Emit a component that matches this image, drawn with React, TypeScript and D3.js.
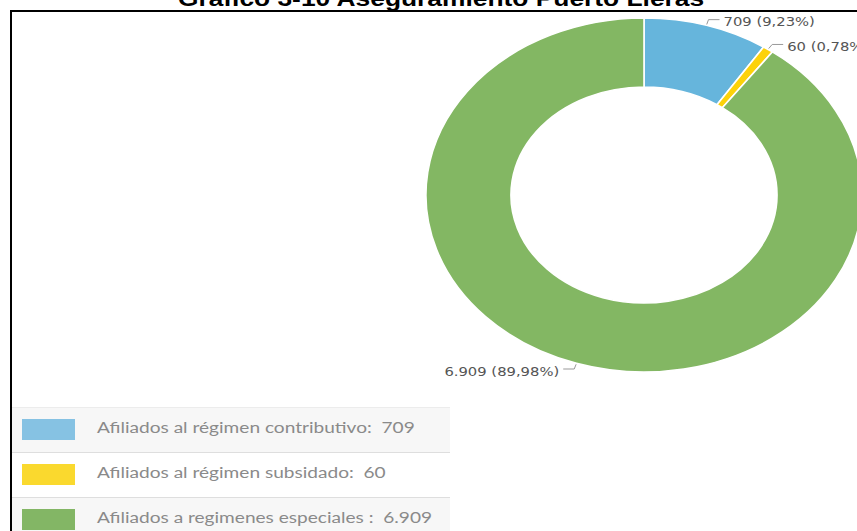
import React from "react";
import * as d3 from "d3";

const titleText = "Gráfico 3-10 Aseguramiento Puerto Lleras";
const categories = [
  "Afiliados al régimen contributivo",
  "Afiliados al régimen subsidado",
  "Afiliados a regimenes especiales ",
];
const values = [709, 60, 6909];
const sliceColors = ["#66b5dc", "#fcd20a", "#83b763"];
const swatchColors = ["#86c2e3", "#fad92e", "#83b665"];

const locale = d3.formatLocale({ decimal: ",", thousands: ".", grouping: [3], currency: ["", ""] });
const fmtInt = locale.format(",d");
const fmtPct = locale.format(".2%");

const W = 857;
const H = 531;
const SX = 1.232;
const CX = 644;
const CY = 195;
const R_OUT = 177;
const R_IN = 108;

export default function App() {
  const total = d3.sum(values);
  const pie = d3.pie<number>().sort(null).startAngle(0).endAngle(2 * Math.PI).value((d) => d);
  const arcs = pie(values);
  const arcGen = d3.arc<d3.PieArcDatum<number>>().innerRadius(R_IN).outerRadius(R_OUT);

  const pt = (angle: number, r: number) => [CX + SX * r * Math.sin(angle), CY - r * Math.cos(angle)];

  const rowY = d3.scaleBand<number>().domain(d3.range(categories.length)).range([407, 542]).padding(0);

  return (
    <svg width={W} height={H} style={{ position: "absolute", left: 0, top: 0, background: "#fff" }}>
      {/* title */}
      <text
        transform={`translate(441,6) scale(${SX},1)`}
        textAnchor="middle"
        fontFamily="'Liberation Sans', Arial, sans-serif"
        fontWeight="bold"
        fontSize={21.4}
        fill="#000"
      >
        {titleText}
      </text>
      {/* frame */}
      <line x1={10} x2={W} y1={11} y2={11} stroke="#000" strokeWidth={2} />
      <line x1={11} x2={11} y1={10} y2={H} stroke="#000" strokeWidth={2} />

      {/* donut */}
      <g transform={`translate(${CX},${CY}) scale(${SX},1)`}>
        {arcs.map((a, i) => (
          <path
            key={i}
            d={arcGen(a) || ""}
            fill={sliceColors[i]}
            stroke="#fff"
            strokeWidth={1.6}
            vectorEffect="non-scaling-stroke"
          />
        ))}
      </g>

      {/* labels */}
      {arcs.map((a, i) => {
        const mid = (a.startAngle + a.endAngle) / 2;
        const right = Math.sin(mid) >= 0;
        const p0 = pt(mid, R_OUT + 1);
        const p1 = pt(mid, R_OUT + 6);
        const p2 = [p1[0] + (right ? 11 : -11), p1[1]];
        const tx = p2[0] + (right ? 4 : -4);
        const label = `${fmtInt(values[i])} (${fmtPct(values[i] / total)})`;
        return (
          <g key={i}>
            <polyline
              points={`${p0[0]},${p0[1]} ${p1[0]},${p1[1]} ${p2[0]},${p2[1]}`}
              fill="none"
              stroke="#999"
              strokeWidth={1}
            />
            <text
              transform={`translate(${tx},${p1[1] + 2.5}) scale(${SX},1)`}
              dy="0.36em"
              textAnchor={right ? "start" : "end"}
              fontFamily="'DejaVu Sans', Verdana, sans-serif"
              fontSize={12}
              fill="#555"
            >
              {label}
            </text>
          </g>
        );
      })}

      {/* legend */}
      {categories.map((c, i) => {
        const y0 = rowY(i)!;
        const h = rowY.bandwidth();
        const cyRow = y0 + h / 2;
        return (
          <g key={i}>
            <rect x={12} y={y0} width={438} height={h} fill={i % 2 === 0 ? "#f7f7f7" : "#ffffff"} />
            <line x1={12} x2={450} y1={y0 + 0.5} y2={y0 + 0.5} stroke={i === 0 ? "#ececec" : "#dedede"} />
            <rect x={22} y={cyRow - 10.5} width={53} height={21} fill={swatchColors[i]} />
            <text
              transform={`translate(97,${cyRow - 1.5}) scale(${SX},1)`}
              dy="0.35em"
              fontFamily="Lato, 'Open Sans', sans-serif"
              fontSize={15.5}
              fill="#8a8a8a"
              style={{ whiteSpace: "pre" }}
            >
              {`${c}:  ${fmtInt(values[i])}`}
            </text>
          </g>
        );
      })}
    </svg>
  );
}
